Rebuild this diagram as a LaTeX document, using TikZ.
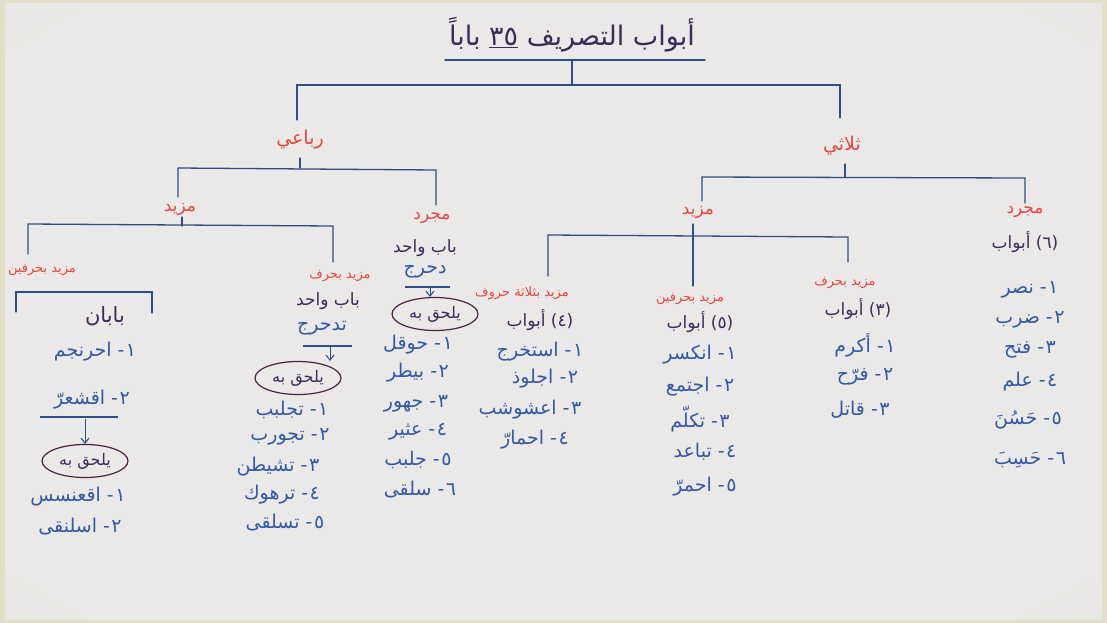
\documentclass[tikz,border=0pt]{standalone}
\usepackage{fontspec}
\usetikzlibrary{shapes.geometric,arrows.meta}
\newfontfamily\arfont[Script=Arabic]{DejaVu Sans}
\TeXXeTstate=1
\newcommand{\RT}[1]{\beginR #1\endR}
\newcommand{\nm}[1]{#1\kern1.5pt-}
\definecolor{paperlight}{HTML}{EAE9E7}
\definecolor{papermid}{HTML}{E0DEDB}
\definecolor{paperdark}{HTML}{C9C4BF}
\definecolor{framec}{HTML}{E3DEC8}
\definecolor{ink}{HTML}{2E4E86}
\definecolor{itemblue}{HTML}{3358A6}
\definecolor{redink}{HTML}{E5473F}
\definecolor{darkink}{HTML}{3B2C5A}
\definecolor{circ}{HTML}{4B2347}
\pgfdeclareradialshading{paperfade}{\pgfpoint{0bp}{0bp}}{color(0bp)=(paperlight); color(32bp)=(paperlight); color(50bp)=(papermid); color(71bp)=(paperdark)}
\tikzset{
  tree/.style={draw=ink, line width=1.3pt, line cap=round},
  lbl/.style={text=redink, font=\arfont\fontsize{13}{15}\selectfont, inner sep=1pt},
  lblbig/.style={text=redink, font=\arfont\fontsize{19}{22}\selectfont, inner sep=1pt},
  lblmid/.style={text=redink, font=\arfont\fontsize{17}{20}\selectfont, inner sep=1pt},
  itm/.style={text=itemblue, font=\arfont\fontsize{19}{22}\selectfont, inner sep=1pt},
  hdr/.style={text=darkink, font=\arfont\fontsize{17}{20}\selectfont, inner sep=1pt},
  hdrbig/.style={text=darkink, font=\arfont\fontsize{21}{24}\selectfont, inner sep=1pt},
  ttl/.style={text=darkink, font=\arfont\fontsize{27}{30}\selectfont, inner sep=1pt},
  oval/.style={ellipse, draw=circ, line width=1.2pt, text=darkink, font=\arfont\fontsize{16}{18}\selectfont, inner sep=0pt, minimum width=86pt, minimum height=33pt},
  uline/.style={draw=ink, line width=1.2pt},
  arr/.style={draw=ink, line width=1pt, -{Straight Barb[length=5pt,width=8pt]}}
}
\begin{document}
\begin{tikzpicture}[x=1pt,y=-1pt]
\useasboundingbox (0,0) rectangle (1107,623);
\fill[framec] (0,0) rectangle (1107,623);
\shade[shading=paperfade] (5,4) rectangle (1102,619);

% title
\node[ttl] (ti) at (572,35) {\RT{أبواب التصريف \underline{٣٥} باباً}};
\coordinate (u1) at (445,60); \coordinate (u2) at (705,60);
\draw[tree] (u1) -- (u2);
\coordinate (c0a) at (572,60); \coordinate (c0b) at (572,85);
\coordinate (c0L) at (297,85); \coordinate (c0R) at (840,85);
\coordinate (c0Ld) at (297,120); \coordinate (c0Rd) at (840,118);
\draw[tree] (c0a) -- (c0b);
\draw[tree] (c0Ld) -- (c0L) -- (c0R) -- (c0Rd);

% level 1
\node[lblbig] (rub) at (300,140) {\RT{رباعي}};
\node[lblbig] (thu) at (842,146) {\RT{ثلاثي}};

% rubai bracket
\coordinate (c1a) at (300,158); \coordinate (c1b) at (300,168);
\coordinate (c1L) at (178,168); \coordinate (c1R) at (436,170);
\coordinate (c1Ld) at (178,197); \coordinate (c1Rd) at (436,205);
\draw[tree] (c1a) -- (c1b);
\draw[tree] (c1Ld) -- (c1L) -- (c1R) -- (c1Rd);

\node[lblmid] (mzR) at (180,210) {\RT{مزيد}};
\node[lblmid] (mjR) at (432,218) {\RT{مجرد}};

% rubai mazid bracket
\coordinate (c2a) at (182,217); \coordinate (c2b) at (182,226);
\coordinate (c2L) at (28,224); \coordinate (c2R) at (333,226);
\coordinate (c2Ld) at (28,254); \coordinate (c2Rd) at (333,262);
\draw[tree] (c2a) -- (c2b);
\draw[tree] (c2Ld) -- (c2L) -- (c2R) -- (c2Rd);

\node[lbl] (mz2R) at (42,270) {\RT{مزيد بحرفين}};
\node[lbl] (mz1R) at (340,276) {\RT{مزيد بحرف}};

% mazid bi-harfayn (rubai)
\coordinate (c3L) at (16,292); \coordinate (c3R) at (152,292);
\coordinate (c3Ld) at (16,312); \coordinate (c3Rd) at (152,313);
\draw[tree] (c3Ld) -- (c3L) -- (c3R) -- (c3Rd);
\node[hdrbig] (h1) at (105,316) {\RT{بابان}};
\node[itm] (a1) at (95,352) {\RT{\nm{١} احرنجم}};
\node[itm] (a2) at (92,400) {\RT{\nm{٢} اقشعرّ}};
\coordinate (a2u1) at (40,417); \coordinate (a2u2) at (118,417);
\draw[uline] (a2u1) -- (a2u2);
\coordinate (a2ar) at (85,419);
\node[oval] (e1) at (85,461) {\RT{يلحق به}};
\draw[arr] (a2ar) -- (e1.north);
\node[itm] (a3) at (78,497) {\RT{\nm{١} اقعنسس}};
\node[itm] (a4) at (80,527) {\RT{\nm{٢} اسلنقى}};

% mazid bi-harf (rubai)
\node[hdr] (h2) at (328,301) {\RT{باب واحد}};
\node[itm] (b0) at (322,328) {\RT{تدحرج}};
\coordinate (b0u1) at (303,346); \coordinate (b0u2) at (352,346);
\draw[uline] (b0u1) -- (b0u2);
\coordinate (b0ar) at (330,347);
\node[oval] (e2) at (298,378) {\RT{يلحق به}};
\draw[arr] (b0ar) -- (e2.north -| b0ar);
\node[itm] (b1) at (292,410) {\RT{\nm{١} تجلبب}};
\node[itm] (b2) at (290,437) {\RT{\nm{٢} تجورب}};
\node[itm] (b3) at (278,467) {\RT{\nm{٣} تشيطن}};
\node[itm] (b4) at (282,495) {\RT{\nm{٤} ترهوك}};
\node[itm] (b5) at (285,523) {\RT{\nm{٥} تسلقى}};

% mujarrad (rubai)
\node[hdr] (h3) at (425,248) {\RT{باب واحد}};
\node[itm] (d0) at (425,272) {\RT{دحرج}};
\coordinate (d0u1) at (405,287); \coordinate (d0u2) at (450,287);
\draw[uline] (d0u1) -- (d0u2);
\coordinate (d0ar) at (430,288);
\node[oval] (e3) at (435,314) {\RT{يلحق به}};
\draw[arr] (d0ar) -- (e3.north -| d0ar);
\node[itm] (d1) at (418,345) {\RT{\nm{١} حوقل}};
\node[itm] (d2) at (418,373) {\RT{\nm{٢} بيطر}};
\node[itm] (d3) at (416,404) {\RT{\nm{٣} جهور}};
\node[itm] (d4) at (418,432) {\RT{\nm{٤} عثير}};
\node[itm] (d5) at (418,460) {\RT{\nm{٥} جلبب}};
\node[itm] (d6) at (420,490) {\RT{\nm{٦} سلقى}};

% thulathi bracket
\coordinate (c4a) at (845,164); \coordinate (c4b) at (845,177);
\coordinate (c4L) at (702,177); \coordinate (c4R) at (1025,178);
\coordinate (c4Ld) at (702,201); \coordinate (c4Rd) at (1025,203);
\draw[tree] (c4a) -- (c4b);
\draw[tree] (c4Ld) -- (c4L) -- (c4R) -- (c4Rd);

\node[lblmid] (mzT) at (698,213) {\RT{مزيد}};
\node[lblmid] (mjT) at (1025,212) {\RT{مجرد}};

% thulathi mazid bracket
\coordinate (c5a) at (693,224); \coordinate (c5b) at (693,235);
\coordinate (c5L) at (548,235); \coordinate (c5R) at (848,237);
\coordinate (c5Ld) at (548,276); \coordinate (c5Md) at (693,286); \coordinate (c5Rd) at (848,262);
\draw[tree] (c5a) -- (c5b) -- (c5Md);
\draw[tree] (c5Ld) -- (c5L) -- (c5R) -- (c5Rd);

\node[lbl] (mz3T) at (522,293) {\RT{مزيد بثلاثة حروف}};
\node[lbl] (mz2T) at (690,299) {\RT{مزيد بحرفين}};
\node[lbl] (mz1T) at (845,283) {\RT{مزيد بحرف}};

% mazid bi-thalatha
\node[hdr] (h4) at (540,320) {\RT{(٤) أبواب}};
\node[itm] (f1) at (540,352) {\RT{\nm{١} استخرج}};
\node[itm] (f2) at (545,379) {\RT{\nm{٢} اجلوذ}};
\node[itm] (f3) at (530,410) {\RT{\nm{٣} اعشوشب}};
\node[itm] (f4) at (535,440) {\RT{\nm{٤} احمارّ}};

% mazid bi-harfayn (thulathi)
\node[hdr] (h5) at (700,322) {\RT{(٥) أبواب}};
\node[itm] (g1) at (700,355) {\RT{\nm{١} انكسر}};
\node[itm] (g2) at (700,387) {\RT{\nm{٢} اجتمع}};
\node[itm] (g3) at (700,419) {\RT{\nm{٣} تكلّم}};
\node[itm] (g4) at (705,452) {\RT{\nm{٤} تباعد}};
\node[itm] (g5) at (705,487) {\RT{\nm{٥} احمرّ}};

% mazid bi-harf (thulathi)
\node[hdr] (h6) at (858,309) {\RT{(٣) أبواب}};
\node[itm] (k1) at (865,345) {\RT{\nm{١} أكرم}};
\node[itm] (k2) at (865,377) {\RT{\nm{٢} فرّح}};
\node[itm] (k3) at (860,410) {\RT{\nm{٣} قاتل}};

% mujarrad (thulathi)
\node[hdr] (h7) at (1025,242) {\RT{(٦) أبواب}};
\node[itm] (m1) at (1030,290) {\RT{\nm{١} نصر}};
\node[itm] (m2) at (1030,320) {\RT{\nm{٢} ضرب}};
\node[itm] (m3) at (1030,350) {\RT{\nm{٣} فتح}};
\node[itm] (m4) at (1030,382) {\RT{\nm{٤} علم}};
\node[itm] (m5) at (1028,420) {\RT{\nm{٥} حَسُنَ}};
\node[itm] (m6) at (1030,460) {\RT{\nm{٦} حَسِبَ}};
\end{tikzpicture}
\end{document}
